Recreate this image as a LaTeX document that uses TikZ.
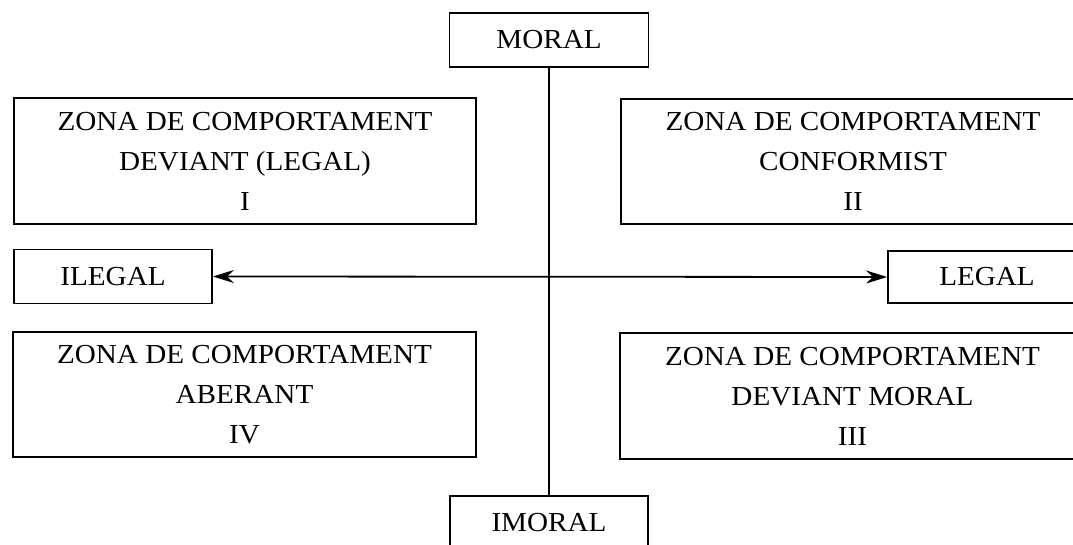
\documentclass[tikz,border=0pt]{standalone}
\usepackage{fontspec}
\setmainfont[FakeStretch=1.06]{Liberation Serif}
\usetikzlibrary{arrows.meta}
\begin{document}
\begin{tikzpicture}[x=1pt,y=-1pt,
  box/.style={draw=black, line width=1.8pt, rectangle, inner sep=0pt, align=center,
    font=\fontsize{27.5}{40}\selectfont},
  conn/.style={draw=black, line width=1.8pt}]
\useasboundingbox (0,0) rectangle (1073,545);
\clip (0,0) rectangle (1073,545);
\node[box, minimum width=199pt, minimum height=54pt] (moral) at (549,40) {MORAL};
\node[box, minimum width=198pt, minimum height=54pt] (imoral) at (549,523) {IMORAL};
\node[box, minimum width=462pt, minimum height=126pt] (z1) at (245,161) {ZONA DE COMPORTAMENT\\DEVIANT (LEGAL)\\I};
\node[box, minimum width=464pt, minimum height=125pt] (z2) at (853,161.5) {ZONA DE COMPORTAMENT\\CONFORMIST\\II};
\node[box, minimum width=198pt, minimum height=54pt] (ilegal) at (113,276.5) {ILEGAL};
\node[box, minimum width=198pt, minimum height=52pt] (legal) at (987,277) {LEGAL};
\node[box, minimum width=463pt, minimum height=125pt] (z4) at (244.5,394.5) {ZONA DE COMPORTAMENT\\ABERANT\\IV};
\node[box, minimum width=465pt, minimum height=126pt] (z3) at (852.5,396) {ZONA DE COMPORTAMENT\\DEVIANT MORAL\\III};
\draw[conn] (moral.south) -- (imoral.north);
\draw[conn, {Stealth[length=21pt,width=13pt]}-{Stealth[length=21pt,width=13pt]}] (ilegal.east) -- (legal.west);
\end{tikzpicture}
\end{document}
